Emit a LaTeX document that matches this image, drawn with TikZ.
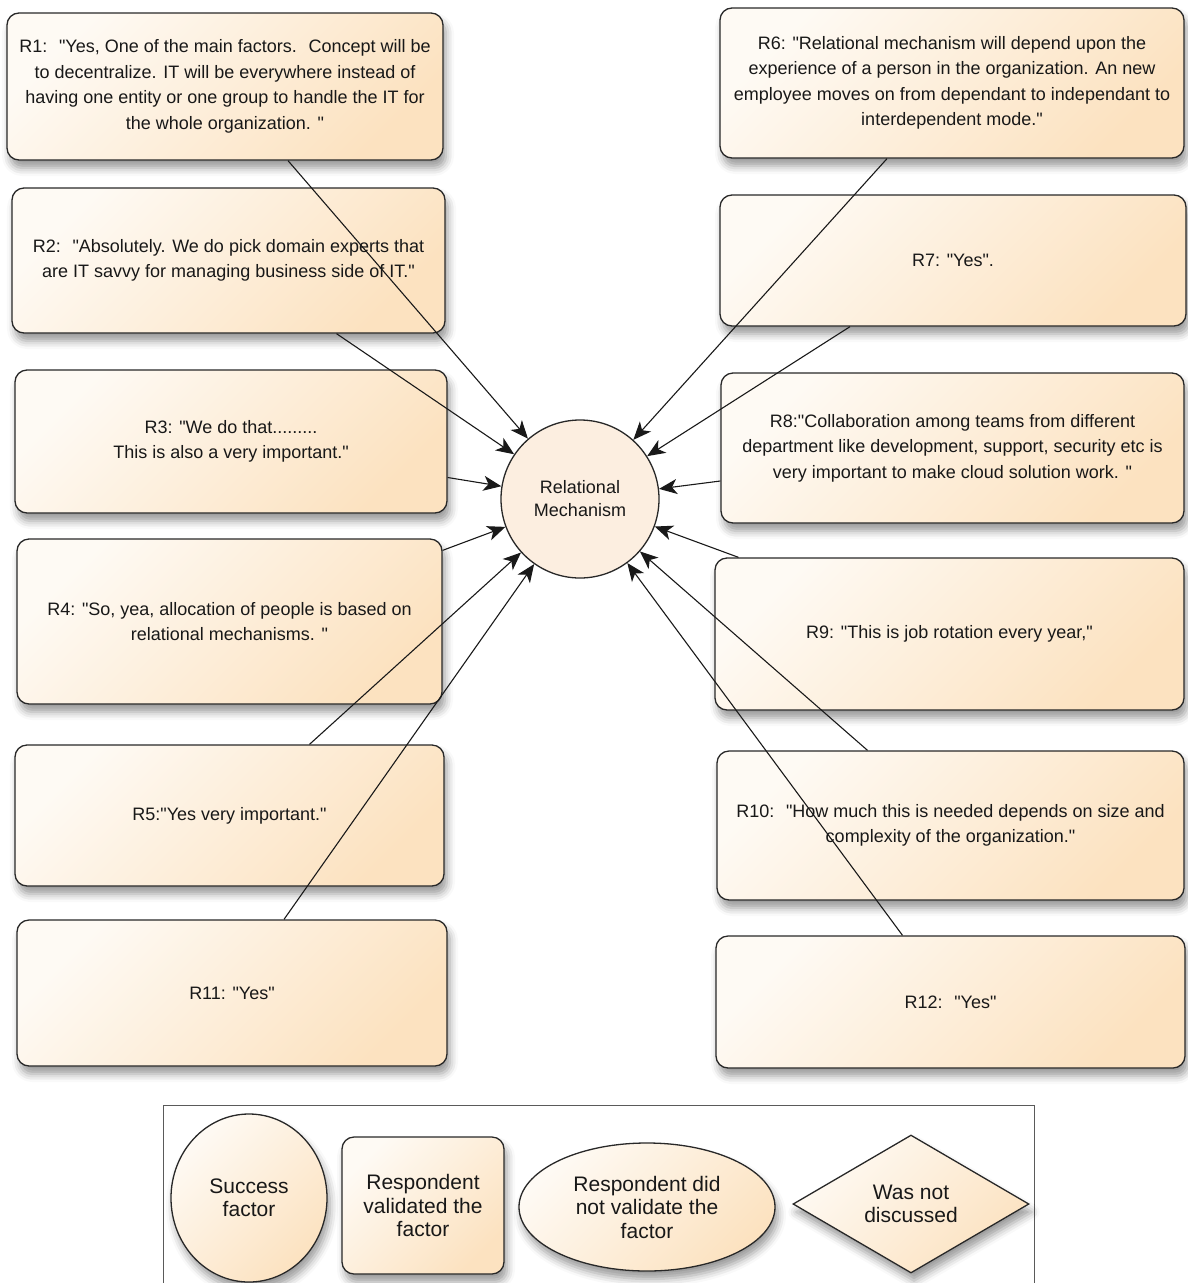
\documentclass[tikz,border=0pt]{standalone}
\usepackage{fontspec}
\setmainfont{Liberation Sans}[Ligatures=TeXOff]
\usetikzlibrary{arrows.meta,shapes.geometric,shadows.blur}

\definecolor{boxlight}{RGB}{254,250,244}
\definecolor{boxpeach}{RGB}{252,226,192}
\definecolor{circfill}{RGB}{252,238,224}
\definecolor{inkcol}{RGB}{24,24,24}
\definecolor{edgecol}{RGB}{40,40,40}
\definecolor{framecol}{RGB}{90,90,90}

\begin{document}
\begin{tikzpicture}[x=1pt,y=-1pt,
  softshadow/.style={blur shadow={shadow xshift=3pt,shadow yshift=-8pt,
      shadow blur radius=8pt,shadow opacity=40}},
  peachfill/.style={top color=boxlight,bottom color=boxpeach,shading angle=45},
  quote/.style={draw=edgecol,line width=1.3pt,rounded corners=12pt,peachfill,
      softshadow,align=center,text=inkcol,inner sep=0pt,
      font=\fontsize{18}{25.5}\selectfont},
  factor/.style={circle,draw=edgecol,line width=1.3pt,fill=circfill,
      minimum size=158pt,inner sep=0pt,align=center,text=inkcol,
      font=\fontsize{18}{23}\selectfont},
  legendshape/.style={draw=edgecol,line width=1.3pt,peachfill,softshadow,
      inner sep=0pt,align=center,text=inkcol,font=\fontsize{21}{23.5}\selectfont},
  feed/.style={draw=black!90,line width=1.1pt,
      -{Stealth[length=18pt,width=15pt,inset=5pt]}}
]
\useasboundingbox (0,0) rectangle (1187,1283);

% central success factor
\node[factor] (c) at (580,499) {Relational\\Mechanism};

% respondent statements, left column
\node[quote,minimum width=436pt,minimum height=147pt] (r1) at (225,86.5)
  {R1: ~"Yes, One of the main factors. ~Concept will be\\
   to decentralize. IT will be everywhere instead of\\
   having one entity or one group to handle the IT for\\
   the whole organization. "};
\node[quote,minimum width=433pt,minimum height=145pt] (r2) at (228.5,260.5)
  {R2: ~"Absolutely. We do pick domain experts that\\
   are IT savvy for managing business side of IT."};
\node[quote,minimum width=432pt,minimum height=143pt] (r3) at (231,441.5)
  {R3: "We do that.........\\ This is also a very important."};
\node[quote,minimum width=425pt,minimum height=165pt] (r4) at (229.5,621.5)
  {R4: "So, yea, allocation of people is based on\\
   relational mechanisms. "};
\node[quote,minimum width=429pt,minimum height=141pt] (r5) at (229.5,815.5)
  {R5:"Yes very important."};
\node[quote,minimum width=430pt,minimum height=146pt] (r11) at (232,993)
  {R11: "Yes"};

% respondent statements, right column
\node[quote,minimum width=464pt,minimum height=150pt] (r6) at (952,83)
  {R6: "Relational mechanism will depend upon the\\
   experience of a person in the organization. An new\\
   employee moves on from dependant to independant to\\
   interdependent mode."};
\node[quote,minimum width=466pt,minimum height=131pt] (r7) at (953,260.5)
  {R7: "Yes".};
\node[quote,minimum width=463pt,minimum height=150pt] (r8) at (952.5,448)
  {R8:"Collaboration among teams from different\\
   department like development, support, security etc is\\
   very important to make cloud solution work. "};
\node[quote,minimum width=469pt,minimum height=152pt] (r9) at (949.5,634)
  {R9: "This is job rotation every year,"};
\node[quote,minimum width=467pt,minimum height=149pt] (r10) at (950.5,825.5)
  {R10: ~"How much this is needed depends on size and\\
   complexity of the organization."};
\node[quote,minimum width=469pt,minimum height=132pt] (r12) at (950.5,1002)
  {R12: ~"Yes"};

% every statement feeds the factor
\draw[feed] ([xshift=63pt]r1.south) -- (c);
\draw[feed] ([xshift=108pt]r2.south) -- (c);
\draw[feed] ([yshift=-36pt]r3.east) -- (c);
\draw[feed] ([yshift=-12pt]r4.north east) -- (c);
\draw[feed] ([xshift=80pt]r5.north) -- (c);
\draw[feed] ([xshift=52pt]r11.north) -- (c);
\draw[feed] ([xshift=-65pt]r6.south) -- (c);
\draw[feed] ([xshift=-103pt]r7.south) -- (c);
\draw[feed] ([yshift=-33pt]r8.west) -- (c);
\draw[feed] ([xshift=-211pt]r9.north) -- (c);
\draw[feed] ([xshift=-83pt]r10.north) -- (c);
\draw[feed] ([xshift=-48pt]r12.north) -- (c);

% legend
\draw[framecol,line width=1pt] (163,1300) -- (163,1105) -- (1034,1105) -- (1034,1300);
\node[legendshape,ellipse,minimum width=156pt,minimum height=168pt] (lg1) at (249,1198)
  {Success\\factor};
\node[legendshape,rounded corners=12pt,minimum width=162pt,minimum height=137pt] (lg2) at (423,1205.5)
  {Respondent\\validated the\\factor};
\node[legendshape,ellipse,minimum width=256pt,minimum height=128pt] (lg3) at (647,1207)
  {Respondent did\\not validate the\\factor};
\node[legendshape,diamond,aspect=1.7,minimum width=236pt,minimum height=138pt] (lg4) at (911,1204)
  {Was not\\discussed};
\end{tikzpicture}
\end{document}
